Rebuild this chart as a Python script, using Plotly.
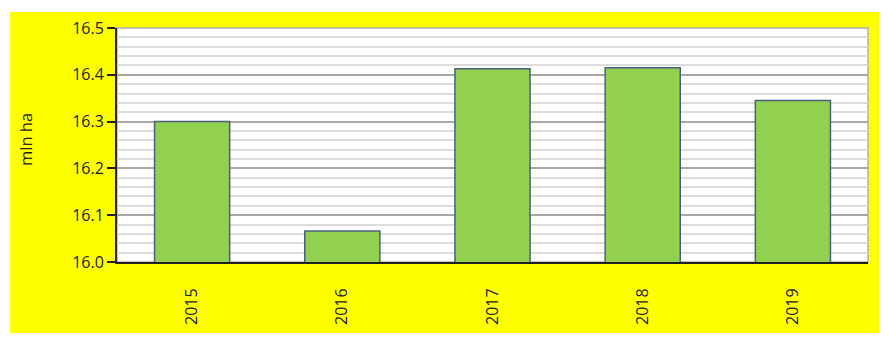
import plotly.graph_objects as go

years = ["2015", "2016", "2017", "2018", "2019"]
values = [16.300, 16.066, 16.413, 16.415, 16.345]
y_ticks = [16.0, 16.1, 16.2, 16.3, 16.4, 16.5]
y_title = "mln ha"

W, H = 889, 342
L, R, T, B = 117, 868, 28, 262  # plot area in pixels

def px_x(p):
    return (p - L) / (R - L)

def px_y(p):
    return (B - p) / (B - T)

fig = go.Figure()
fig.add_trace(go.Bar(
    x=years, y=values,
    marker=dict(color="#92D050", line=dict(color="#4A5F80", width=1.5)),
    base=0,
))

font = "Open Sans"
fig.update_layout(
    width=W, height=H,
    margin=dict(l=L, r=W - R, t=T, b=H - B, autoexpand=False),
    paper_bgcolor="white",
    plot_bgcolor="white",
    bargap=0.5,
    showlegend=False,
    font=dict(family=font, size=16, color="#222"),
    shapes=[
        dict(type="rect", xref="paper", yref="paper", layer="below",
             x0=px_x(10), x1=px_x(879), y0=px_y(333), y1=px_y(12),
             fillcolor="#FFFF00", line=dict(width=0)),
        dict(type="rect", xref="paper", yref="paper", layer="below",
             x0=0, x1=1, y0=0, y1=1,
             fillcolor="white", line=dict(color="#B0B0B0", width=1.5)),
    ],
    annotations=[
        dict(text=y_title, xref="paper", yref="paper", x=px_x(25), y=px_y(140),
             textangle=-90, showarrow=False, xanchor="center", yanchor="middle",
             font=dict(family=font, size=16.5, color="#222")),
    ],
)

fig.update_yaxes(
    range=[16.0, 16.5],
    tickvals=y_ticks,
    ticktext=[f"{v:.1f}" for v in y_ticks],
    ticks="outside", ticklen=8, tickwidth=1.5, tickcolor="#222",
    showline=True, linecolor="#222", linewidth=2,
    showgrid=True, gridcolor="#A8A8A8", gridwidth=1.5,
    minor=dict(dtick=0.02, showgrid=True, gridcolor="#DCDCDC", gridwidth=2, ticks=""),
    zeroline=False,
    automargin=False,
    tickfont=dict(family=font, size=16, color="#222"),
)
fig.update_xaxes(
    type="category",
    tickangle=-90,
    ticks="",
    showline=True, linecolor="#222", linewidth=2,
    showgrid=False,
    automargin=False,
    ticklabelstandoff=18,
    tickfont=dict(family=font, size=16, color="#222"),
)

fig.write_html("out.html")
